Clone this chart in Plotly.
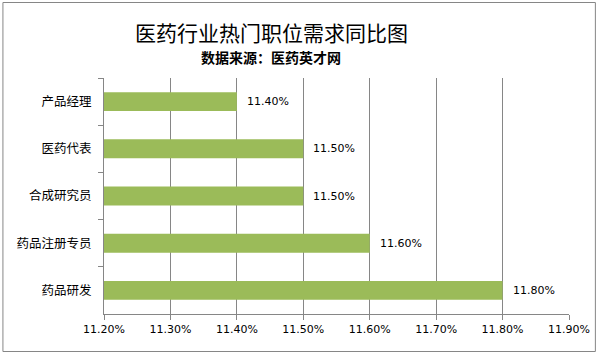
import plotly.graph_objects as go

categories = ["产品经理", "医药代表", "合成研究员", "药品注册专员", "药品研发"]
values = [0.1140, 0.1150, 0.1150, 0.1160, 0.1180]
x_ticks = [0.1120, 0.1130, 0.1140, 0.1150, 0.1160, 0.1170, 0.1180, 0.1190]
title_text = "医药行业热门职位需求同比图"
subtitle_text = "数据来源：医药英才网"

W, H = 602, 354
ml, mr, mt, mb = 104, 31, 78, 40
pw, ph = W - ml - mr, H - mt - mb

grid = "#868686"
font_cjk = "Noto Sans CJK SC"

fig = go.Figure(go.Bar(
    y=categories, x=values, orientation="h",
    marker=dict(color="#9BBB59", line=dict(width=0)),
    width=0.4,
))

for c, v in zip(categories, values):
    fig.add_annotation(x=v, y=c, text=f"{v*100:.2f}%", showarrow=False,
                       xanchor="left", xshift=8, font=dict(size=11, color="#000", family="DejaVu Sans"))

cx = (272 - ml) / pw
fig.add_annotation(x=cx, y=(H - 32 - mb) / ph, xref="paper", yref="paper", text=title_text,
                   showarrow=False, font=dict(size=21, color="#000", family=font_cjk),
                   xanchor="center", yanchor="middle")
fig.add_annotation(x=cx, y=(H - 57 - mb) / ph, xref="paper", yref="paper", text=f"<b>{subtitle_text}</b>",
                   showarrow=False, font=dict(size=14, color="#000", family=font_cjk),
                   xanchor="center", yanchor="middle")

fig.add_shape(type="rect", xref="paper", yref="paper",
              x0=(2.5 - ml) / pw, x1=(597.5 - ml) / pw,
              y0=(H - 351.5 - mb) / ph, y1=(H - 2.5 - mb) / ph,
              line=dict(color=grid, width=1), fillcolor="rgba(0,0,0,0)", layer="below")

fig.update_layout(
    width=W, height=H, margin=dict(l=ml, r=mr, t=mt, b=mb),
    paper_bgcolor="white", plot_bgcolor="white",
    showlegend=False,
    xaxis=dict(range=[0.1120, 0.1190], tickvals=x_ticks, tickformat=".2%",
               showgrid=True, gridcolor=grid, gridwidth=1,
               showline=True, linecolor=grid, ticks="outside", ticklen=5, tickcolor=grid,
               tickfont=dict(size=11, color="#000", family="DejaVu Sans"), zeroline=False,
               fixedrange=True),
    yaxis=dict(autorange="reversed", showline=True, linecolor=grid, ticks="outside",
               tickson="boundaries", ticklen=5, tickcolor=grid, showgrid=False,
               tickfont=dict(size=12.5, color="#000", family=font_cjk), ticklabelstandoff=9),
    font=dict(family=font_cjk),
)

fig.write_html("out.html")
